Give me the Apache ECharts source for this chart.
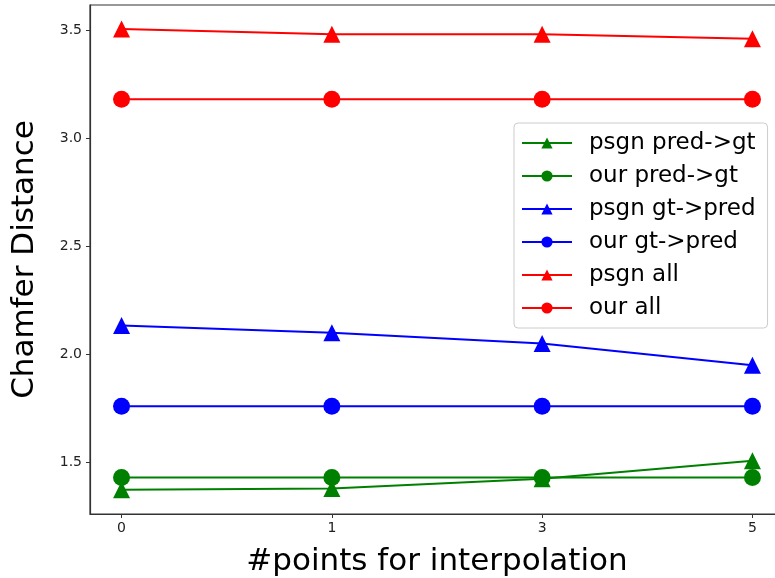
<!DOCTYPE html>
<html>
<head>
<meta charset="utf-8">
<script src="https://cdn.jsdelivr.net/npm/echarts@6/dist/echarts.min.js"></script>
<style>
html,body{margin:0;padding:0;background:#fff;overflow:hidden;}
#chart{width:775px;height:578px;}
</style>
</head>
<body>
<div id="chart"></div>
<script>
const xLabels = ['0', '1', '3', '5'];
const yTicks = [1.5, 2.0, 2.5, 3.0, 3.5];
const psgnPredGt = [1.374, 1.38, 1.425, 1.508];
const ourPredGt = [1.43, 1.43, 1.43, 1.43];
const psgnGtPred = [2.133, 2.10, 2.05, 1.95];
const ourGtPred = [1.76, 1.76, 1.76, 1.76];
const psgnAll = [3.505, 3.48, 3.48, 3.46];
const ourAll = [3.18, 3.18, 3.18, 3.18];

const seriesDefs = [
  {name: 'psgn pred->gt', data: psgnPredGt, color: '#008000', symbol: 'triangle'},
  {name: 'our pred->gt', data: ourPredGt, color: '#008000', symbol: 'circle'},
  {name: 'psgn gt->pred', data: psgnGtPred, color: '#0000ff', symbol: 'triangle'},
  {name: 'our gt->pred', data: ourGtPred, color: '#0000ff', symbol: 'circle'},
  {name: 'psgn all', data: psgnAll, color: '#ff0000', symbol: 'triangle'},
  {name: 'our all', data: ourAll, color: '#ff0000', symbol: 'circle'}
];

const FONT = 'DejaVu Sans';
const chart = echarts.init(document.getElementById('chart'), null, {renderer: 'canvas'});
chart.setOption({
  animation: false,
  backgroundColor: '#fff',
  textStyle: {fontFamily: FONT},
  grid: {left: 90, top: 5, width: 694, height: 509, outerBoundsMode: 'none', containLabel: false, show: true, borderColor: '#333', borderWidth: 1.2, backgroundColor: 'transparent'},
  legend: {
    orient: 'vertical',
    left: 514, top: 123,
    padding: [8, 12, 8, 7],
    itemWidth: 50, itemHeight: 14,
    itemGap: 9,
    backgroundColor: 'rgba(255,255,255,0.8)',
    borderColor: '#ccc', borderWidth: 1, borderRadius: 4,
    textStyle: {fontFamily: FONT, fontSize: 23, color: '#000', lineHeight: 24, padding: [0, 0, 0, 12]},
    data: seriesDefs.map(s => s.name)
  },
  xAxis: {
    type: 'value', min: -0.15, max: 3.15,
    name: '#points for interpolation', nameLocation: 'middle', nameGap: 32,
    nameTextStyle: {fontFamily: FONT, fontSize: 31, color: '#000'},
    axisLine: {show: true, onZero: false, lineStyle: {color: '#333', width: 1.2}},
    axisTick: {show: true, length: 4, customValues: [0, 1, 2, 3], lineStyle: {color: '#333'}},
    axisLabel: {customValues: [0, 1, 2, 3], formatter: v => xLabels[Math.round(v)], fontSize: 14, color: '#222', margin: 7},
    splitLine: {show: false}
  },
  yAxis: {
    type: 'value', min: 1.2615, max: 3.6156,
    name: 'Chamfer Distance', nameLocation: 'middle', nameGap: 50,
    nameTextStyle: {fontFamily: FONT, fontSize: 31, color: '#000'},
    axisLine: {show: true, onZero: false, lineStyle: {color: '#333', width: 1.2}},
    axisTick: {show: true, length: 4, customValues: yTicks, lineStyle: {color: '#333'}},
    axisLabel: {customValues: yTicks, formatter: v => v.toFixed(1), fontSize: 14, color: '#222', margin: 8},
    splitLine: {show: false}
  },
  series: seriesDefs.map(s => ({
    name: s.name, type: 'line',
    data: s.data.map((v, i) => [i, v]),
    symbol: s.symbol, symbolSize: 17,
    itemStyle: {color: s.color},
    lineStyle: {color: s.color, width: 2},
    emphasis: {disabled: true}
  }))
});
</script>
</body>
</html>
